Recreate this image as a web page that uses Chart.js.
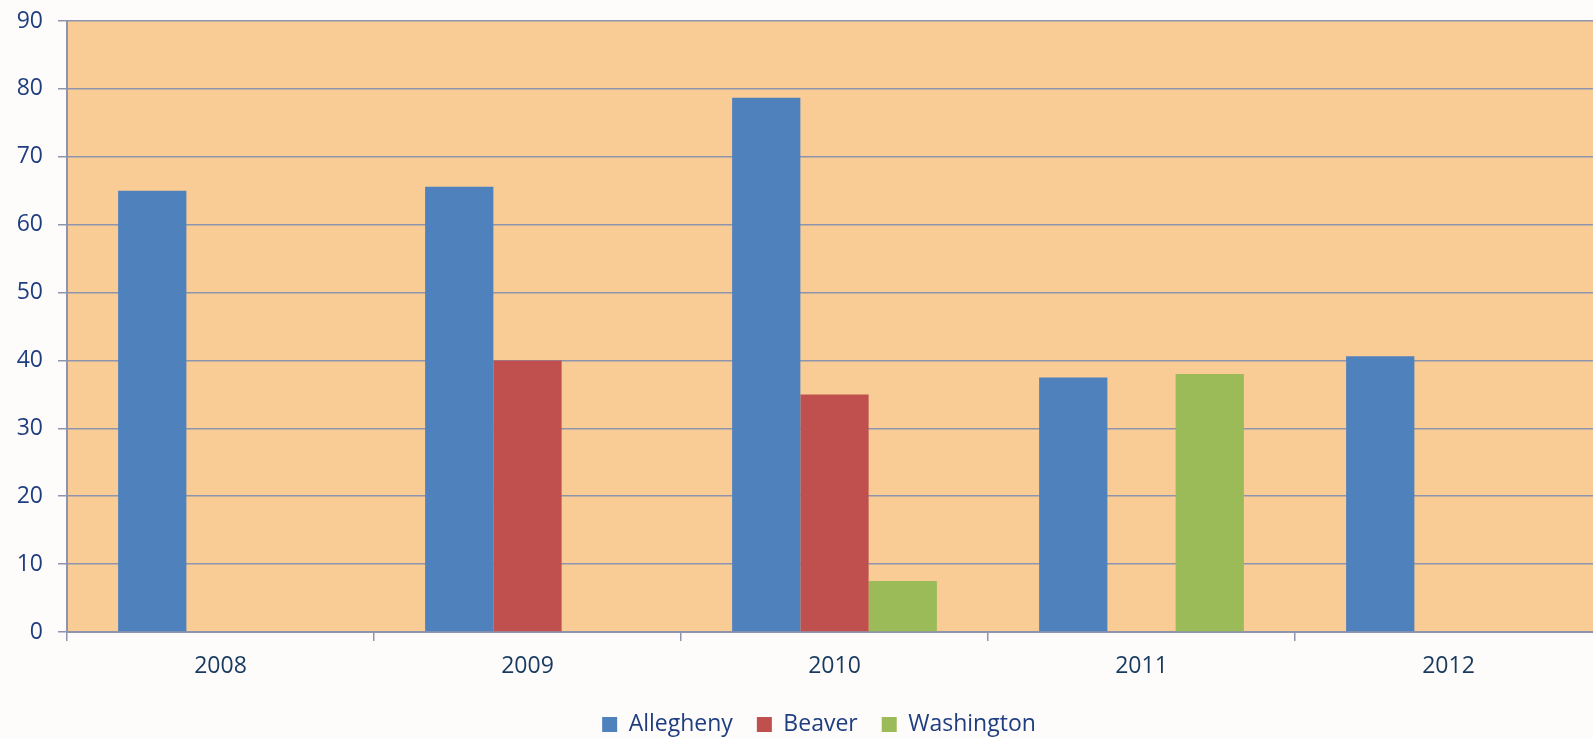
<!DOCTYPE html>
<html>
<head>
<meta charset="utf-8">
<script src="https://cdn.jsdelivr.net/npm/chart.js@4"></script>
<style>
  html, body { margin: 0; padding: 0; background: #fefcfb; overflow: hidden; }
  #wrap { width: 1593px; height: 738px; overflow: hidden; }
  #chart-box { width: 1602px; height: 738px; }
</style>
</head>
<body>
<div id="wrap"><div id="chart-box"><canvas id="bar-chart"></canvas></div></div>
<script>
const years = ['2008', '2009', '2010', '2011', '2012'];
const allegheny = [65, 65.6, 78.7, 37.5, 40.6];
const beaver = [null, 40, 35, null, null];
const washington = [null, null, 7.5, 38, null];
const yTicks = [0, 10, 20, 30, 40, 50, 60, 70, 80, 90];

const gridColor = '#8e94ae';
const fontName = '"Open Sans", sans-serif';

const plotBackground = {
    id: 'plotBackground',
    beforeDraw(chart) {
        const area = chart.chartArea;
        const ctx = chart.ctx;
        ctx.save();
        ctx.fillStyle = '#f9cc95';
        ctx.fillRect(area.left, area.top, area.right - area.left, area.bottom - area.top);
        ctx.restore();
    }
};

// the legend sits a little right of centre in the original
const legendShift = {
    id: 'legendShift',
    afterLayout(chart) {
        chart.legend.left += 18;
        chart.legend.right += 18;
    }
};

const chartCanvas = document.getElementById('bar-chart');

new Chart(chartCanvas, {
    type: 'bar',
    data: {
        labels: years,
        datasets: [
            { label: 'Allegheny', data: allegheny, backgroundColor: '#4f81bd' },
            { label: 'Beaver', data: beaver, backgroundColor: '#c0504d' },
            { label: 'Washington', data: washington, backgroundColor: '#9bbb59' }
        ]
    },
    options: {
        responsive: true,
        maintainAspectRatio: false,
        animation: false,
        layout: { padding: { top: 21, right: 0, bottom: -8, left: 0 } },
        datasets: {
            bar: { categoryPercentage: 0.667, barPercentage: 1.0 }
        },
        scales: {
            x: {
                grid: {
                    display: true,
                    drawOnChartArea: false,
                    drawTicks: true,
                    tickLength: 9,
                    color: gridColor,
                    lineWidth: 1.5,
                    offset: true
                },
                border: { color: gridColor, width: 2 },
                ticks: {
                    color: '#173a5e',
                    font: { family: fontName, size: 23 },
                    padding: 12
                },
                afterFit(scale) { scale.height = 57; }
            },
            y: {
                min: 0,
                max: 90,
                afterBuildTicks(scale) {
                    scale.ticks = yTicks.map(v => ({ value: v }));
                },
                grid: {
                    color: gridColor,
                    lineWidth: 1.5,
                    tickLength: 9
                },
                border: { color: gridColor, width: 2 },
                ticks: {
                    color: '#1f3e80',
                    font: { family: fontName, size: 23 },
                    padding: 15
                },
                afterFit(scale) {
                    scale.width = 67;
                    scale.paddingTop = 0;
                    scale.paddingBottom = 0;
                }
            }
        },
        plugins: {
            legend: {
                position: 'bottom',
                labels: {
                    boxWidth: 15,
                    boxHeight: 15,
                    padding: 24,
                    color: '#1f3e80',
                    font: { family: fontName, size: 23 }
                }
            },
            tooltip: { enabled: false }
        }
    },
    plugins: [plotBackground, legendShift]
});
</script>
</body>
</html>
